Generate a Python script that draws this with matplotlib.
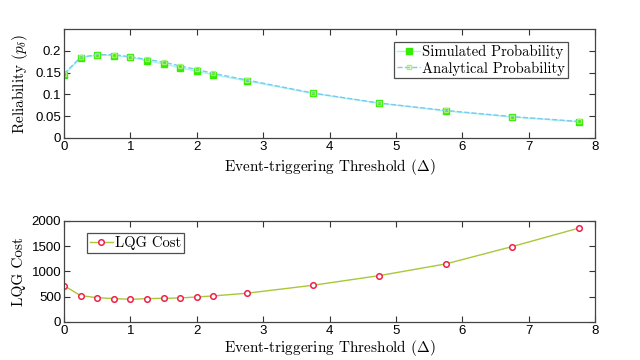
import matplotlib
matplotlib.use("Agg")
import matplotlib.pyplot as plt

delta = [0, 0.25, 0.5, 0.75, 1, 1.25, 1.5, 1.75, 2, 2.25, 2.75, 3.75, 4.75, 5.75, 6.75, 7.75]
simulated = [0.144, 0.184, 0.190, 0.189, 0.185, 0.177, 0.170, 0.161, 0.153, 0.145, 0.131, 0.102, 0.0795, 0.062, 0.048, 0.037]
analytical = [0.147, 0.185, 0.191, 0.191, 0.186, 0.180, 0.174, 0.165, 0.157, 0.148, 0.133, 0.103, 0.080, 0.063, 0.049, 0.038]
lqg = [719, 521, 481, 462, 449, 462, 468, 475, 495, 515, 568, 726, 917, 1148, 1491, 1855]

plt.rcParams['mathtext.fontset'] = 'cm'
plt.rcParams['axes.unicode_minus'] = False
serif = dict(family='cmr10')
tickfont = 'Liberation Sans'

fig = plt.figure(figsize=(6.4, 3.6), dpi=100)
ax1 = fig.add_axes([0.1, 0.6167, 0.83, 0.303])
ax2 = fig.add_axes([0.1, 0.1056, 0.83, 0.281])

ax1.plot(delta, simulated, '-', color='#a6f5f0', lw=1.0, marker='s', ms=4,
         mfc='#33ee00', mec='#33ee00', label='Simulated Probability')
ax1.plot(delta, analytical, '--', color='#7cc8f0', lw=1.0, marker='s', ms=3,
         mfc='none', mec='#a8f070', mew=1.0, label='Analytical Probability')
ax1.set_xlim(0, 8)
ax1.set_ylim(0, 0.25)
ax1.set_yticks([0, 0.05, 0.1, 0.15, 0.2])
ax1.set_yticklabels(['0', '0.05', '0.1', '0.15', '0.2'])
ax1.set_xlabel(r'Event-triggering Threshold $(\Delta)$', fontsize=11, labelpad=3, **serif)
ax1.set_ylabel(r'Reliability $(p_\delta)$', fontsize=11, **serif)
leg1 = ax1.legend(loc='upper right', bbox_to_anchor=(0.948, 0.88), prop=dict(family='cmr10', size=10.5),
                  frameon=True, fancybox=False, edgecolor='#222222', handlelength=1.6,
                  borderpad=0.2, labelspacing=0.15, handletextpad=0.1, borderaxespad=0)
leg1.get_frame().set_linewidth(0.9)

ax2.plot(delta, lqg, '-', color='#a8c83a', lw=1.0, marker='o', ms=4,
         mfc='white', mec='#f0204a', mew=1.1, label='LQG Cost')
ax2.set_xlim(0, 8)
ax2.set_ylim(0, 2000)
ax2.set_yticks([0, 500, 1000, 1500, 2000])
ax2.set_xlabel(r'Event-triggering Threshold $(\Delta)$', fontsize=11, labelpad=1, **serif)
ax2.set_ylabel('LQG Cost', fontsize=11, **serif)
leg2 = ax2.legend(loc='upper left', bbox_to_anchor=(0.043, 0.88), prop=dict(family='cmr10', size=10.5),
                  frameon=True, fancybox=False, edgecolor='#222222', handlelength=1.6,
                  borderpad=0.2, handletextpad=0.1, borderaxespad=0)
leg2.get_frame().set_linewidth(0.9)

for ax in (ax1, ax2):
    ax.tick_params(direction='in', top=True, right=True, length=4, width=0.8,
                   labelsize=9.5, pad=2, colors='#333333', labelcolor='black')
    for lab in ax.get_xticklabels() + ax.get_yticklabels():
        lab.set_fontfamily(tickfont)
    for s in ax.spines.values():
        s.set_color('#444444')
        s.set_linewidth(0.9)

fig.savefig('out.png', dpi=100)
